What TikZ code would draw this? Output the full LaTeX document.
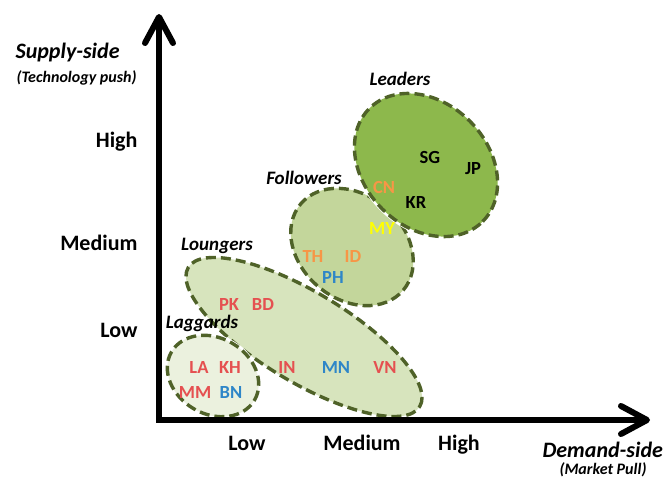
\documentclass[tikz,border=0pt]{standalone}
\usepackage{fontspec}
\setmainfont{Carlito}
\usetikzlibrary{shapes.geometric}
\definecolor{bord}{RGB}{79,98,40}
\definecolor{fLead}{RGB}{141,184,76}
\definecolor{fFoll}{RGB}{195,214,155}
\definecolor{fLoun}{RGB}{215,228,189}
\definecolor{fLagg}{RGB}{235,241,222}
\definecolor{cred}{RGB}{229,80,80}
\definecolor{cblue}{RGB}{46,134,200}
\definecolor{corange}{RGB}{247,150,70}
\definecolor{cyellow}{RGB}{255,255,0}
\tikzset{
  grp/.style={ellipse, draw=bord, line width=3.4pt, dash pattern=on 10pt off 5pt, inner sep=0pt, outer sep=0pt,
    preaction={draw=white, line width=5pt, solid}},
  axisline/.style={line width=6pt, black},
  chev/.style={line width=6pt, black, line join=round, line cap=round},
  lev/.style={font=\fontsize{22}{24}\selectfont\bfseries, anchor=base},
  ttl/.style={font=\fontsize{22}{24}\selectfont\bfseries\itshape, anchor=base west},
  sub/.style={font=\fontsize{16}{18}\selectfont\bfseries\itshape, anchor=base west},
  glab/.style={font=\fontsize{19}{21}\selectfont\bfseries\itshape, anchor=base},
  ctry/.style={font=\fontsize{18.5}{20}\selectfont\bfseries, anchor=base},
}
\begin{document}
\begin{tikzpicture}[x=1pt,y=-1pt]
\useasboundingbox[fill=white] (0,0) rectangle (664,479);
% group ellipses
\node[grp, fill=fLoun, minimum width=270pt, minimum height=90pt, rotate=-31] (loun) at (304,337) {};
\node[grp, fill=fLagg, minimum width=96pt, minimum height=76pt, rotate=-30] (lagg) at (213,376) {};
\node[grp, fill=fFoll, minimum width=134pt, minimum height=104pt, rotate=-40] (foll) at (352,247) {};
\node[grp, fill=fLead, minimum width=160pt, minimum height=124pt, rotate=-45] (lead) at (426,165) {};
% axes
\coordinate (O) at (159,420);
\coordinate (ytip) at (159,17);
\coordinate (xtip) at (647,420);
\coordinate (yl) at (145,43);
\coordinate (yr) at (173,43);
\coordinate (xu) at (621,406);
\coordinate (xd) at (621,434);
\draw[axisline] (ytip) -- (O) -- (xtip);
\draw[chev] (yl) -- (ytip) -- (yr);
\draw[chev] (xu) -- (xtip) -- (xd);
% axis titles
\node[ttl] (supply) at (12,58) {Supply-side};
\node[sub] (techpush) at (13,82) {(Technology push)};
\node[ttl] (demand) at (539,457) {Demand-side};
\node[sub, anchor=base] (mpull) at (603,474) {(Market Pull)};
% level labels
\node[lev, anchor=base east] (yhigh) at (141,147) {High};
\node[lev, anchor=base east] (ymed) at (141,250) {Medium};
\node[lev, anchor=base east] (ylow) at (141,337) {Low};
\node[lev] (xlow) at (247,450) {Low};
\node[lev] (xmed) at (362,450) {Medium};
\node[lev] (xhigh) at (459,450) {High};
% group labels
\node[glab] (tlead) at (400,85) {Leaders};
\node[glab] (tfoll) at (304,184) {Followers};
\node[glab] (tloun) at (217,250) {Loungers};
\node[glab] (tlagg) at (202,328) {Laggards};
% countries
\node[ctry] (SG) at (430,163) {SG};
\node[ctry] (JP) at (473,174) {JP};
\node[ctry, text=corange] (CN) at (384,193) {CN};
\node[ctry] (KR) at (416,208) {KR};
\node[ctry, text=cyellow] (MY) at (382,234) {MY};
\node[ctry, text=corange] (TH) at (313,262) {TH};
\node[ctry, text=corange] (ID) at (353,262) {ID};
\node[ctry, text=cblue] (PH) at (333,283) {PH};
\node[ctry, text=cred] (PK) at (229,310) {PK};
\node[ctry, text=cred] (BD) at (263,310) {BD};
\node[ctry, text=cred] (LA) at (199,373) {LA};
\node[ctry, text=cred] (KH) at (230,373) {KH};
\node[ctry, text=cred] (IN) at (287,373) {IN};
\node[ctry, text=cblue] (MN) at (336,373) {MN};
\node[ctry, text=cred] (VN) at (385,373) {VN};
\node[ctry, text=cred] (MM) at (195,398) {MM};
\node[ctry, text=cblue] (BN) at (231,398) {BN};
\end{tikzpicture}
\end{document}
